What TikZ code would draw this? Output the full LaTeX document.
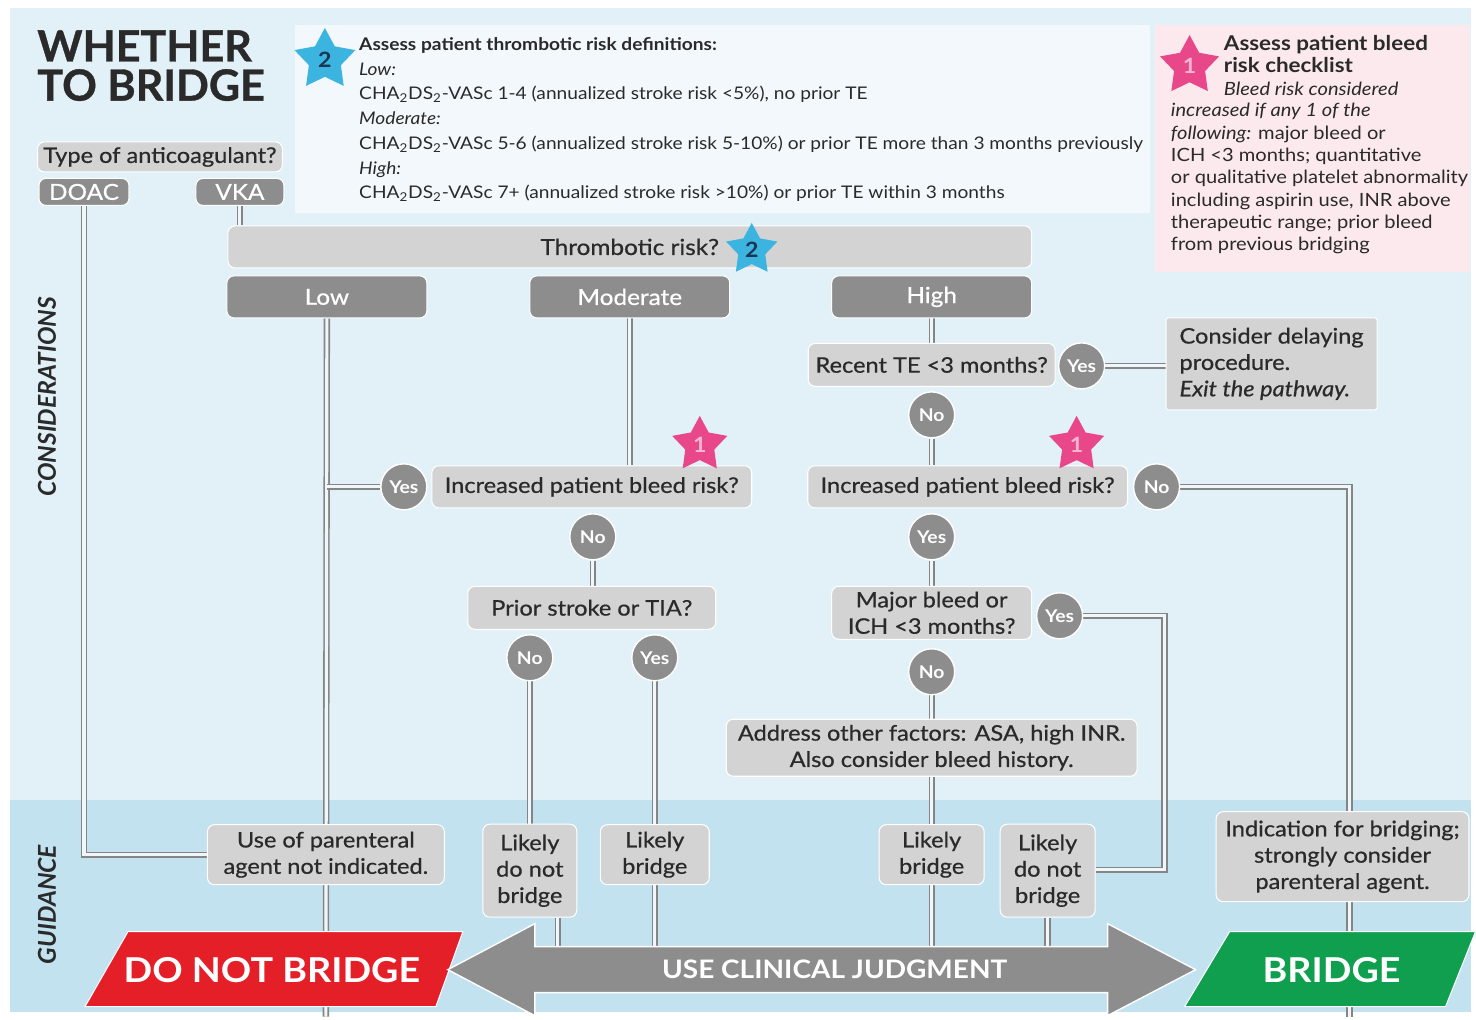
\documentclass[tikz,border=0pt]{standalone}
\usepackage{fontspec}
\setmainfont{Lato}[FakeStretch=1.1]
\newfontfamily\plainfont{Lato}
\newfontfamily\titlefont{Lato}[BoldFeatures={FakeBold=0.8}]
\newfontfamily\boxfont{Lato}[FakeStretch=1.1, FakeBold=0.6]
\usetikzlibrary{shapes.geometric,positioning}

\definecolor{skyback}{HTML}{E2F1F8}
\definecolor{guideback}{HTML}{C2E2F0}
\definecolor{defback}{HTML}{F2F8FB}
\definecolor{pinkback}{HTML}{FCE9EE}
\definecolor{boxgray}{HTML}{D3D3D3}
\definecolor{pillgray}{HTML}{8D8D8D}
\definecolor{wiregray}{HTML}{858585}
\definecolor{inkdark}{HTML}{2A2A2A}
\definecolor{starblue}{HTML}{3BB4E0}
\definecolor{starpink}{HTML}{E8478A}
\definecolor{starnavy}{HTML}{1B3552}
\definecolor{stopred}{HTML}{E41F28}
\definecolor{gogreen}{HTML}{0F9F4F}

\pgfdeclarelayer{back}
\pgfdeclarelayer{wires}
\pgfsetlayers{back,wires,main}

\tikzset{
  wh/.style 2 args={minimum width=#1*0.2mm, minimum height=#2*0.2mm},
  qbox/.style={fill=boxgray, draw=white, line width=0.6pt, rounded corners=4pt,
    inner sep=0pt, align=center, text=inkdark, font=\boxfont\fontsize{12.2}{15}\selectfont},
  riskbox/.style={qbox, fill=pillgray, text=white, font=\boxfont\fontsize{12.6}{14}\selectfont},
  ans/.style={circle, fill=pillgray, draw=white, line width=0.8pt, inner sep=0pt,
    minimum size=46*0.2mm, text=white, font=\bfseries\fontsize{10}{12}\selectfont},
  link/.style={draw=wiregray, line width=0.9pt, double=white!45!skyback, double distance=1.8pt},
  bluestar/.style={star, star points=5, star point ratio=1.9, fill=starblue, inner sep=0pt,
    minimum size=#1*0.2mm, text=starnavy, font=\bfseries\fontsize{12}{12}\selectfont},
  pinkstar/.style={star, star points=5, star point ratio=1.9, fill=starpink, inner sep=0pt,
    minimum size=#1*0.2mm, text=white!60!starpink, font=\bfseries\fontsize{12}{12}\selectfont},
  sidelabel/.style={rotate=90, text=inkdark, font=\plainfont\bfseries\itshape\fontsize{14}{14}\selectfont},
  banner/.style={text=white, font=\bfseries\fontsize{19.5}{20}\selectfont},
}

\begin{document}
\begin{tikzpicture}[x=0.2mm, y=-0.2mm]
% backdrop
\begin{pgfonlayer}{back}
  \fill[white] (0,0) rectangle (1476,1017);
  \fill[skyback] (10,8) rectangle (1472,1012);
  \fill[guideback] (10,800) rectangle (1472,1012);
\end{pgfonlayer}

\node[anchor=north west, align=left, inner sep=0pt, text=inkdark,
  font=\titlefont\bfseries\fontsize{24.5}{22.3}\selectfont] (title) at (37,30) {WHETHER\\TO BRIDGE};

% thrombotic risk definitions
\node[wh={855}{188}, fill=defback, anchor=north west] (defs) at (295,25) {};
\node[bluestar=64] (stara) at (325,60) {2};
\node[anchor=north west, align=left, inner sep=0pt, text=inkdark,
  font=\fontsize{9.9}{14.1}\selectfont] (deftext) at (359,37)
  {\textbf{Assess patient thrombotic risk definitions:}\\
   \textit{Low:}\\
   CHA\textsubscript{2}DS\textsubscript{2}-VASc 1-4 (annualized stroke risk <5\%), no prior TE\\
   \textit{Moderate:}\\
   CHA\textsubscript{2}DS\textsubscript{2}-VASc 5-6 (annualized stroke risk 5-10\%) or prior TE more than 3 months previously\\
   \textit{High:}\\
   CHA\textsubscript{2}DS\textsubscript{2}-VASc 7+ (annualized stroke risk >10\%) or prior TE within 3 months};

% bleed risk checklist
\node[wh={315}{247}, fill=pinkback, anchor=north west] (bleed) at (1155,25) {};
\node[pinkstar=62] (starb) at (1190,66) {1};
\node[anchor=north west, align=left, inner sep=0pt, text=inkdark,
  font=\fontsize{10.4}{12.7}\selectfont] (bleedhead) at (1224,35)
  {\textbf{\fontsize{11.6}{12.7}\selectfont Assess patient bleed}\\
   \textbf{\fontsize{11.6}{12.7}\selectfont risk checklist}\\
   \textit{Bleed risk considered}};
\node[anchor=north west, align=left, inner sep=0pt, text=inkdark,
  font=\fontsize{10.4}{12.7}\selectfont] (bleedbody) at (1171,103)
  {\textit{increased if any 1 of the}\\
   \textit{following:} major bleed or\\
   ICH <3 months; quantitative\\
   or qualitative platelet abnormality\\
   including aspirin use, INR above\\
   therapeutic range; prior bleed\\
   from previous bridging};

% anticoagulant
\node[qbox, wh={245}{30}] (anti) at (160,157) {Type of anticoagulant?};
\node[riskbox, wh={90}{27}] (doac) at (84,192) {DOAC};
\node[riskbox, wh={88}{27}] (vka) at (240,192) {VKA};

% thrombotic risk
\node[qbox, wh={804}{42}, font=\boxfont\fontsize{12.6}{14}\selectfont] (throm) at (630,247) {Thrombotic risk?};
\node[bluestar=54] (starc) at (752,250) {2};
\node[riskbox, wh={200}{42}] (low) at (327,297) {Low};
\node[riskbox, wh={200}{42}] (mod) at (630,297) {Moderate};
\node[riskbox, wh={200}{42}] (high) at (932,297) {High};

% high branch
\node[qbox, wh={247}{43}] (recent) at (932,365) {Recent TE <3 months?};
\node[ans] (yesT) at (1082,366) {Yes};
\node[qbox, wh={211}{92}, rounded corners=1pt, align=left] (delay) at (1272,364)
  {Consider delaying\\procedure.\\\textit{Exit the pathway.}};
\node[ans] (noT) at (932,415) {No};
\node[qbox, wh={320}{42}] (bleedR) at (968,487) {Increased patient bleed risk?};
\node[pinkstar=58] (stard) at (1077,445) {1};
\node[ans] (noB) at (1157,487) {No};
\node[ans] (yesB) at (932,537) {Yes};
\node[qbox, wh={200}{53}] (major) at (932,613) {Major bleed or\\ICH <3 months?};
\node[ans] (yesM) at (1060,616) {Yes};
\node[ans] (noM) at (932,672) {No};
\node[qbox, wh={411}{57}] (addr) at (932,748) {Address other factors: ASA, high INR.\\Also consider bleed history.};

% moderate branch
\node[qbox, wh={320}{42}] (bleedL) at (592,487) {Increased patient bleed risk?};
\node[pinkstar=58] (stare) at (700,445) {1};
\node[ans] (yesL) at (404,487) {Yes};
\node[ans] (noL) at (593,537) {No};
\node[qbox, wh={248}{43}] (prior) at (592,608) {Prior stroke or TIA?};
\node[ans] (noP) at (530,658) {No};
\node[ans] (yesP) at (655,658) {Yes};

% guidance
\node[qbox, wh={237}{60}] (paren) at (326,855) {Use of parenteral\\agent not indicated.};
\node[qbox, wh={94}{93}] (ldnbL) at (530,871) {Likely\\do not\\bridge};
\node[qbox, wh={109}{60}] (lbL) at (655,855) {Likely\\bridge};
\node[qbox, wh={105}{60}] (lbR) at (932,855) {Likely\\bridge};
\node[qbox, wh={95}{93}] (ldnbR) at (1048,871) {Likely\\do not\\bridge};
\node[qbox, wh={253}{90}] (indic) at (1343,857) {Indication for bridging;\\strongly consider\\parenteral agent.};

\coordinate (lowend) at (326,1017);
\coordinate (armL) at (558,960);
\coordinate (bridgeend) at (1350,1017);
\coordinate (bend) at (1165,870);

\begin{pgfonlayer}{wires}
  \draw[link] (doac.south) |- (paren.west);
  \draw[link] (vka.south) -- (vka.south |- throm.north);
  \draw[link] (low.south) -- (lowend);
  \draw[link] (yesL.west) -- (yesL.west -| low.south);
  \draw[link] (mod.south) -- (mod.south |- bleedL.north);
  \draw[link] (noL.south) -- (noL.south |- prior.north);
  \draw[link] (noP.south) -- (noP.south |- ldnbL.north);
  \draw[link] (ldnbL.south -| armL) -- (armL);
  \draw[link] (yesP.south) -- (yesP.south |- lbL.north);
  \draw[link] (lbL.south) -- (lbL.south |- armL);
  \draw[link] (high.south) -- (high.south |- recent.north);
  \draw[link] (yesT.east) -- (yesT.east -| delay.west);
  \draw[link] (noT.south) -- (noT.south |- bleedR.north);
  \draw[link] (noB.east) -| (bridgeend);
  \draw[link] (yesB.south) -- (yesB.south |- major.north);
  \draw[link] (yesM.east) -| (bend) -- (ldnbR.east |- bend);
  \draw[link] (noM.south) -- (noM.south |- addr.north);
  \draw[link] (addr.south) -- (addr.south |- lbR.north);
  \draw[link] (lbR.south) -- (lbR.south |- armL);
  \draw[link] (ldnbR.south) -- (ldnbR.south |- armL);
\end{pgfonlayer}

% outcome bar
\fill[stopred, draw=white, line width=0.6pt] (128,932) -- (463,932) -- (436,1007) -- (85,1007) -- cycle;
\node[banner] (nobridge) at (272,970) {DO NOT BRIDGE};
\fill[pillgray, draw=white, line width=0.8pt] (448,970) -- (535,924) -- (535,947) -- (1108,947)
  -- (1108,924) -- (1196,970) -- (1108,1016) -- (1108,993) -- (535,993) -- (535,1016) -- cycle;
\node[banner, font=\bfseries\fontsize{14.5}{16}\selectfont] (judge) at (835,970) {USE CLINICAL JUDGMENT};
\fill[gogreen, draw=white, line width=0.6pt] (1230,932) -- (1476,932) -- (1446,1007) -- (1185,1007) -- cycle;
\node[banner] (bridge) at (1332,970) {BRIDGE};

\node[sidelabel] (consid) at (47,397) {CONSIDERATIONS};
\node[sidelabel] (guide) at (47,905) {GUIDANCE};
\end{tikzpicture}
\end{document}
